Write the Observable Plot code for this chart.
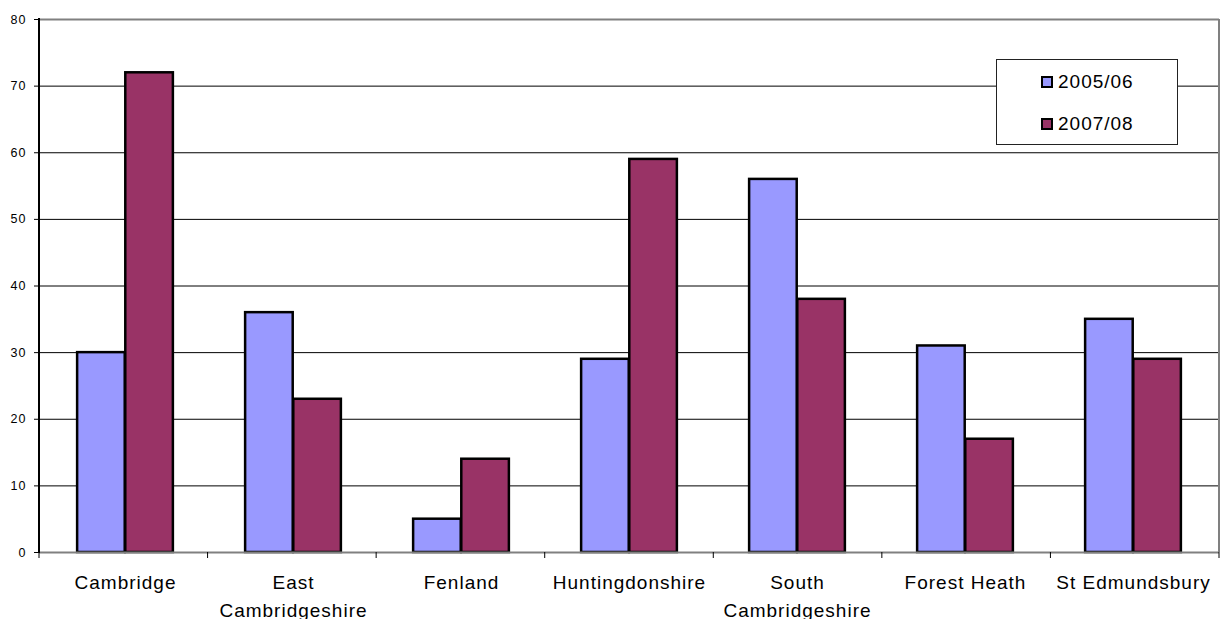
<!DOCTYPE html>
<html>
<head>
<meta charset="utf-8">
<script src="https://cdn.jsdelivr.net/npm/d3@7"></script>
<script src="https://cdn.jsdelivr.net/npm/@observablehq/plot@0.6"></script>
<style>
  html, body { margin: 0; padding: 0; background: #fff; }
  #wrap { position: relative; width: 1221px; height: 619px; font-family: "Liberation Sans", Arial, sans-serif; }
  #legend { position: absolute; left: 996px; top: 59px; width: 182px; height: 86px; border: 1px solid #222; background: #fff; box-sizing: border-box; }
  .item { position: absolute; left: 44px; display: flex; align-items: center; font-size: 19px; letter-spacing: 1px; color: #000; line-height: 22px; }
  .sw { width: 8px; height: 8px; border: 2px solid #000; margin-right: 5px; }
</style>
</head>
<body>
<div id="wrap"></div>
<script>
const categories = ["Cambridge", "East\nCambridgeshire", "Fenland", "Huntingdonshire", "South\nCambridgeshire", "Forest Heath", "St Edmundsbury"];
const series = ["2005/06", "2007/08"];
const values2005 = [30, 36, 5, 29, 56, 31, 35];
const values2007 = [72, 23, 14, 59, 38, 17, 29];
const colors = ["#9999FF", "#993366"];
const yTicks = [0, 10, 20, 30, 40, 50, 60, 70, 80];

const W = 1221, H = 619, ML = 39, MR = 2, MT = 19, MB = 67;
const step = (W - ML - MR) / categories.length;
const barW = step / 3.5; // Excel gap width 150%

const rows = [];
categories.forEach((c, i) => {
  rows.push({cat: c, series: series[0], value: values2005[i]});
  rows.push({cat: c, series: series[1], value: values2007[i]});
});

function frameBits(index, scales, values, dims) {
  const g = d3.create("svg:g");
  const x0 = dims.marginLeft, x1 = dims.width - dims.marginRight;
  const yb = dims.height - dims.marginBottom, yt = dims.marginTop;
  const s = (x1 - x0) / categories.length;
  for (let i = 0; i <= categories.length; i++) {
    const x = x0 + i * s;
    g.append("line").attr("x1", x).attr("x2", x).attr("y1", yb).attr("y2", yb + 6)
      .attr("stroke", "#000").attr("stroke-width", 1);
  }
  g.append("line").attr("x1", x1).attr("x2", x1).attr("y1", yt).attr("y2", yb)
    .attr("stroke", "#808080").attr("stroke-width", 2);
  g.append("line").attr("x1", x0).attr("x2", x0).attr("y1", yt - 1).attr("y2", yb + 1)
    .attr("stroke", "#000").attr("stroke-width", 2);
  return g.node();
}

const chart = Plot.plot({
  width: W, height: H,
  marginLeft: ML, marginRight: MR, marginTop: MT, marginBottom: MB,
  style: {fontFamily: "'Liberation Sans', Arial, sans-serif", background: "#fff", overflow: "visible"},
  x: {domain: categories, padding: 0, axis: null},
  y: {domain: [0, 80], axis: null},
  marks: [
    Plot.ruleY(yTicks.filter(d => d > 0 && d < 80), {stroke: "#000", strokeWidth: 1}),
    Plot.ruleY([80], {stroke: "#808080", strokeWidth: 2}),
    Plot.barY(rows.filter(d => d.series === series[0]), {x: "cat", y: "value", fill: colors[0], stroke: "#000", strokeWidth: 2.5,
      insetLeft: 0.75 * barW, insetRight: step - 1.75 * barW}),
    Plot.barY(rows.filter(d => d.series === series[1]), {x: "cat", y: "value", fill: colors[1], stroke: "#000", strokeWidth: 2.5,
      insetLeft: 1.75 * barW, insetRight: step - 2.75 * barW}),
    Plot.ruleY([0], {stroke: "#808080", strokeWidth: 2}),
    frameBits,
    Plot.axisY({ticks: yTicks, tickSize: 5, tickPadding: 8, fontSize: 12, tickFormat: d => String(d), label: null}),
    Plot.text(categories, {x: d => d, y: () => 0, text: d => d, lineAnchor: "top", dy: 17, fontSize: 19,
      lineHeight: 1.47, fill: "#000"})
  ]
});
document.getElementById("wrap").appendChild(chart);
chart.querySelectorAll("g[aria-label='text'] text").forEach(t => t.setAttribute("letter-spacing", "1"));
chart.querySelectorAll("g[aria-label='y-axis tick label']").forEach(g => { g.setAttribute("font-size", "12.5"); });
chart.querySelectorAll("g[aria-label='y-axis tick label'] text").forEach(t => { t.setAttribute("letter-spacing", "1"); t.setAttribute("font-size", "12.5"); });

const legend = document.createElement("div");
legend.id = "legend";
series.forEach((s, i) => {
  const it = document.createElement("div");
  it.className = "item";
  it.style.top = (i === 0 ? 11 : 53) + "px";
  const sw = document.createElement("div");
  sw.className = "sw";
  sw.style.background = colors[i];
  it.appendChild(sw);
  it.appendChild(document.createTextNode(s));
  legend.appendChild(it);
});
document.getElementById("wrap").appendChild(legend);
</script>
</body>
</html>
